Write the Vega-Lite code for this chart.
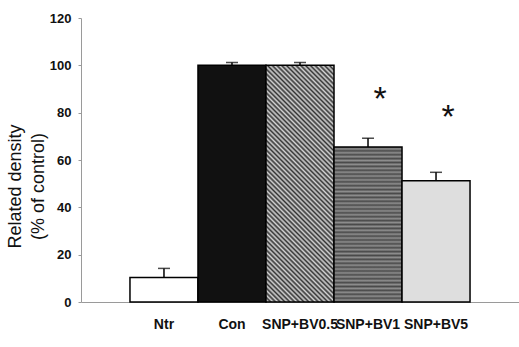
{
  "$schema": "https://vega.github.io/schema/vega-lite/v6.json",
  "width": 438,
  "height": 284,
  "autosize": {"type": "none"},
  "padding": {"left": 81, "top": 18, "right": 0, "bottom": 45},
  "background": "white",
  "config": {"view": {"stroke": null}, "font": "Liberation Sans"},
  "data": {
    "values": [
      {"group": "Ntr", "mean": 10.3, "upper": 14.2},
      {"group": "Con", "mean": 100, "upper": 101.2},
      {"group": "SNP+BV0.5", "mean": 100, "upper": 101.2},
      {"group": "SNP+BV1", "mean": 65.5, "upper": 69.2, "star": "*", "starY": 87.5},
      {"group": "SNP+BV5", "mean": 51.2, "upper": 54.8, "star": "*", "starY": 80}
    ]
  },
  "encoding": {
    "x": {
      "field": "group",
      "type": "nominal",
      "sort": null,
      "scale": {"paddingInner": 0, "paddingOuter": 0.72},
      "axis": {
        "title": null,
        "labelAngle": 0,
        "ticks": false,
        "domainColor": "#9a9a9a",
        "domainWidth": 1,
        "labelFont": "Liberation Sans",
        "labelFontWeight": "bold",
        "labelFontSize": 14,
        "labelColor": "#111",
        "labelPadding": 15
      }
    }
  },
  "layer": [
    {
      "transform": [{"filter": "datum.group === 'Ntr'"}],
      "mark": {"type": "bar", "fill": "white", "stroke": "black", "strokeWidth": 1.5},
      "encoding": {
        "y": {
          "field": "mean",
          "type": "quantitative",
          "scale": {"domain": [0, 120], "nice": false},
          "title": ["Related density", "(% of control)"],
          "axis": {
            "values": [0, 20, 40, 60, 80, 100, 120],
            "grid": false,
            "domainColor": "#9a9a9a",
            "tickColor": "#9a9a9a",
            "tickSize": 3,
            "labelFont": "Liberation Sans",
            "labelFontWeight": "bold",
            "labelFontSize": 13,
            "labelColor": "#111",
            "labelPadding": 7,
            "title": ["Related density", "(% of control)"],
            "titleFont": "Liberation Sans",
            "titleFontSize": 18,
            "titleFontWeight": "normal",
            "titleColor": "#111",
            "titleLineHeight": 23,
            "titleX": -57,
            "titleY": 168
          }
        }
      }
    },
    {
      "transform": [{"filter": "datum.group === 'Con'"}],
      "mark": {"type": "bar", "fill": "#111111", "stroke": "black", "strokeWidth": 1.5},
      "encoding": {"y": {"field": "mean", "type": "quantitative"}}
    },
    {
      "transform": [{"filter": "datum.group === 'SNP+BV0.5'"}],
      "mark": {
        "type": "bar",
        "stroke": "black",
        "strokeWidth": 1.5,
        "fill": {
          "gradient": "linear",
          "x1": 0, "y1": 1, "x2": 0.3416, "y2": -0.1891,
          "stops": [
            {"offset": 0, "color": "#333333"}, {"offset": 0.0078, "color": "#d4d4d4"},
            {"offset": 0.0156, "color": "#333333"}, {"offset": 0.0234, "color": "#d4d4d4"},
            {"offset": 0.0313, "color": "#333333"}, {"offset": 0.0391, "color": "#d4d4d4"},
            {"offset": 0.0469, "color": "#333333"}, {"offset": 0.0547, "color": "#d4d4d4"},
            {"offset": 0.0625, "color": "#333333"}, {"offset": 0.0703, "color": "#d4d4d4"},
            {"offset": 0.0781, "color": "#333333"}, {"offset": 0.0859, "color": "#d4d4d4"},
            {"offset": 0.0938, "color": "#333333"}, {"offset": 0.1016, "color": "#d4d4d4"},
            {"offset": 0.1094, "color": "#333333"}, {"offset": 0.1172, "color": "#d4d4d4"},
            {"offset": 0.125, "color": "#333333"}, {"offset": 0.1328, "color": "#d4d4d4"},
            {"offset": 0.1406, "color": "#333333"}, {"offset": 0.1484, "color": "#d4d4d4"},
            {"offset": 0.1563, "color": "#333333"}, {"offset": 0.1641, "color": "#d4d4d4"},
            {"offset": 0.1719, "color": "#333333"}, {"offset": 0.1797, "color": "#d4d4d4"},
            {"offset": 0.1875, "color": "#333333"}, {"offset": 0.1953, "color": "#d4d4d4"},
            {"offset": 0.2031, "color": "#333333"}, {"offset": 0.2109, "color": "#d4d4d4"},
            {"offset": 0.2188, "color": "#333333"}, {"offset": 0.2266, "color": "#d4d4d4"},
            {"offset": 0.2344, "color": "#333333"}, {"offset": 0.2422, "color": "#d4d4d4"},
            {"offset": 0.25, "color": "#333333"}, {"offset": 0.2578, "color": "#d4d4d4"},
            {"offset": 0.2656, "color": "#333333"}, {"offset": 0.2734, "color": "#d4d4d4"},
            {"offset": 0.2813, "color": "#333333"}, {"offset": 0.2891, "color": "#d4d4d4"},
            {"offset": 0.2969, "color": "#333333"}, {"offset": 0.3047, "color": "#d4d4d4"},
            {"offset": 0.3125, "color": "#333333"}, {"offset": 0.3203, "color": "#d4d4d4"},
            {"offset": 0.3281, "color": "#333333"}, {"offset": 0.3359, "color": "#d4d4d4"},
            {"offset": 0.3438, "color": "#333333"}, {"offset": 0.3516, "color": "#d4d4d4"},
            {"offset": 0.3594, "color": "#333333"}, {"offset": 0.3672, "color": "#d4d4d4"},
            {"offset": 0.375, "color": "#333333"}, {"offset": 0.3828, "color": "#d4d4d4"},
            {"offset": 0.3906, "color": "#333333"}, {"offset": 0.3984, "color": "#d4d4d4"},
            {"offset": 0.4063, "color": "#333333"}, {"offset": 0.4141, "color": "#d4d4d4"},
            {"offset": 0.4219, "color": "#333333"}, {"offset": 0.4297, "color": "#d4d4d4"},
            {"offset": 0.4375, "color": "#333333"}, {"offset": 0.4453, "color": "#d4d4d4"},
            {"offset": 0.4531, "color": "#333333"}, {"offset": 0.4609, "color": "#d4d4d4"},
            {"offset": 0.4688, "color": "#333333"}, {"offset": 0.4766, "color": "#d4d4d4"},
            {"offset": 0.4844, "color": "#333333"}, {"offset": 0.4922, "color": "#d4d4d4"},
            {"offset": 0.5, "color": "#333333"}, {"offset": 0.5078, "color": "#d4d4d4"},
            {"offset": 0.5156, "color": "#333333"}, {"offset": 0.5234, "color": "#d4d4d4"},
            {"offset": 0.5313, "color": "#333333"}, {"offset": 0.5391, "color": "#d4d4d4"},
            {"offset": 0.5469, "color": "#333333"}, {"offset": 0.5547, "color": "#d4d4d4"},
            {"offset": 0.5625, "color": "#333333"}, {"offset": 0.5703, "color": "#d4d4d4"},
            {"offset": 0.5781, "color": "#333333"}, {"offset": 0.5859, "color": "#d4d4d4"},
            {"offset": 0.5938, "color": "#333333"}, {"offset": 0.6016, "color": "#d4d4d4"},
            {"offset": 0.6094, "color": "#333333"}, {"offset": 0.6172, "color": "#d4d4d4"},
            {"offset": 0.625, "color": "#333333"}, {"offset": 0.6328, "color": "#d4d4d4"},
            {"offset": 0.6406, "color": "#333333"}, {"offset": 0.6484, "color": "#d4d4d4"},
            {"offset": 0.6563, "color": "#333333"}, {"offset": 0.6641, "color": "#d4d4d4"},
            {"offset": 0.6719, "color": "#333333"}, {"offset": 0.6797, "color": "#d4d4d4"},
            {"offset": 0.6875, "color": "#333333"}, {"offset": 0.6953, "color": "#d4d4d4"},
            {"offset": 0.7031, "color": "#333333"}, {"offset": 0.7109, "color": "#d4d4d4"},
            {"offset": 0.7188, "color": "#333333"}, {"offset": 0.7266, "color": "#d4d4d4"},
            {"offset": 0.7344, "color": "#333333"}, {"offset": 0.7422, "color": "#d4d4d4"},
            {"offset": 0.75, "color": "#333333"}, {"offset": 0.7578, "color": "#d4d4d4"},
            {"offset": 0.7656, "color": "#333333"}, {"offset": 0.7734, "color": "#d4d4d4"},
            {"offset": 0.7813, "color": "#333333"}, {"offset": 0.7891, "color": "#d4d4d4"},
            {"offset": 0.7969, "color": "#333333"}, {"offset": 0.8047, "color": "#d4d4d4"},
            {"offset": 0.8125, "color": "#333333"}, {"offset": 0.8203, "color": "#d4d4d4"},
            {"offset": 0.8281, "color": "#333333"}, {"offset": 0.8359, "color": "#d4d4d4"},
            {"offset": 0.8438, "color": "#333333"}, {"offset": 0.8516, "color": "#d4d4d4"},
            {"offset": 0.8594, "color": "#333333"}, {"offset": 0.8672, "color": "#d4d4d4"},
            {"offset": 0.875, "color": "#333333"}, {"offset": 0.8828, "color": "#d4d4d4"},
            {"offset": 0.8906, "color": "#333333"}, {"offset": 0.8984, "color": "#d4d4d4"},
            {"offset": 0.9063, "color": "#333333"}, {"offset": 0.9141, "color": "#d4d4d4"},
            {"offset": 0.9219, "color": "#333333"}, {"offset": 0.9297, "color": "#d4d4d4"},
            {"offset": 0.9375, "color": "#333333"}, {"offset": 0.9453, "color": "#d4d4d4"},
            {"offset": 0.9531, "color": "#333333"}, {"offset": 0.9609, "color": "#d4d4d4"},
            {"offset": 0.9688, "color": "#333333"}, {"offset": 0.9766, "color": "#d4d4d4"},
            {"offset": 0.9844, "color": "#333333"}, {"offset": 0.9922, "color": "#d4d4d4"},
            {"offset": 1, "color": "#333333"}
          ]
        }
      },
      "encoding": {"y": {"field": "mean", "type": "quantitative"}}
    },
    {
      "transform": [{"filter": "datum.group === 'SNP+BV1'"}],
      "mark": {
        "type": "bar",
        "stroke": "black",
        "strokeWidth": 1.5,
        "fill": {
          "gradient": "linear",
          "x1": 0, "y1": 0, "x2": 0, "y2": 1,
          "stops": [
            {"offset": 0, "color": "#4a4a4a"}, {"offset": 0.0125, "color": "#8e8e8e"},
            {"offset": 0.025, "color": "#4a4a4a"}, {"offset": 0.0375, "color": "#8e8e8e"},
            {"offset": 0.05, "color": "#4a4a4a"}, {"offset": 0.0625, "color": "#8e8e8e"},
            {"offset": 0.075, "color": "#4a4a4a"}, {"offset": 0.0875, "color": "#8e8e8e"},
            {"offset": 0.1, "color": "#4a4a4a"}, {"offset": 0.1125, "color": "#8e8e8e"},
            {"offset": 0.125, "color": "#4a4a4a"}, {"offset": 0.1375, "color": "#8e8e8e"},
            {"offset": 0.15, "color": "#4a4a4a"}, {"offset": 0.1625, "color": "#8e8e8e"},
            {"offset": 0.175, "color": "#4a4a4a"}, {"offset": 0.1875, "color": "#8e8e8e"},
            {"offset": 0.2, "color": "#4a4a4a"}, {"offset": 0.2125, "color": "#8e8e8e"},
            {"offset": 0.225, "color": "#4a4a4a"}, {"offset": 0.2375, "color": "#8e8e8e"},
            {"offset": 0.25, "color": "#4a4a4a"}, {"offset": 0.2625, "color": "#8e8e8e"},
            {"offset": 0.275, "color": "#4a4a4a"}, {"offset": 0.2875, "color": "#8e8e8e"},
            {"offset": 0.3, "color": "#4a4a4a"}, {"offset": 0.3125, "color": "#8e8e8e"},
            {"offset": 0.325, "color": "#4a4a4a"}, {"offset": 0.3375, "color": "#8e8e8e"},
            {"offset": 0.35, "color": "#4a4a4a"}, {"offset": 0.3625, "color": "#8e8e8e"},
            {"offset": 0.375, "color": "#4a4a4a"}, {"offset": 0.3875, "color": "#8e8e8e"},
            {"offset": 0.4, "color": "#4a4a4a"}, {"offset": 0.4125, "color": "#8e8e8e"},
            {"offset": 0.425, "color": "#4a4a4a"}, {"offset": 0.4375, "color": "#8e8e8e"},
            {"offset": 0.45, "color": "#4a4a4a"}, {"offset": 0.4625, "color": "#8e8e8e"},
            {"offset": 0.475, "color": "#4a4a4a"}, {"offset": 0.4875, "color": "#8e8e8e"},
            {"offset": 0.5, "color": "#4a4a4a"}, {"offset": 0.5125, "color": "#8e8e8e"},
            {"offset": 0.525, "color": "#4a4a4a"}, {"offset": 0.5375, "color": "#8e8e8e"},
            {"offset": 0.55, "color": "#4a4a4a"}, {"offset": 0.5625, "color": "#8e8e8e"},
            {"offset": 0.575, "color": "#4a4a4a"}, {"offset": 0.5875, "color": "#8e8e8e"},
            {"offset": 0.6, "color": "#4a4a4a"}, {"offset": 0.6125, "color": "#8e8e8e"},
            {"offset": 0.625, "color": "#4a4a4a"}, {"offset": 0.6375, "color": "#8e8e8e"},
            {"offset": 0.65, "color": "#4a4a4a"}, {"offset": 0.6625, "color": "#8e8e8e"},
            {"offset": 0.675, "color": "#4a4a4a"}, {"offset": 0.6875, "color": "#8e8e8e"},
            {"offset": 0.7, "color": "#4a4a4a"}, {"offset": 0.7125, "color": "#8e8e8e"},
            {"offset": 0.725, "color": "#4a4a4a"}, {"offset": 0.7375, "color": "#8e8e8e"},
            {"offset": 0.75, "color": "#4a4a4a"}, {"offset": 0.7625, "color": "#8e8e8e"},
            {"offset": 0.775, "color": "#4a4a4a"}, {"offset": 0.7875, "color": "#8e8e8e"},
            {"offset": 0.8, "color": "#4a4a4a"}, {"offset": 0.8125, "color": "#8e8e8e"},
            {"offset": 0.825, "color": "#4a4a4a"}, {"offset": 0.8375, "color": "#8e8e8e"},
            {"offset": 0.85, "color": "#4a4a4a"}, {"offset": 0.8625, "color": "#8e8e8e"},
            {"offset": 0.875, "color": "#4a4a4a"}, {"offset": 0.8875, "color": "#8e8e8e"},
            {"offset": 0.9, "color": "#4a4a4a"}, {"offset": 0.9125, "color": "#8e8e8e"},
            {"offset": 0.925, "color": "#4a4a4a"}, {"offset": 0.9375, "color": "#8e8e8e"},
            {"offset": 0.95, "color": "#4a4a4a"}, {"offset": 0.9625, "color": "#8e8e8e"},
            {"offset": 0.975, "color": "#4a4a4a"}, {"offset": 0.9875, "color": "#8e8e8e"},
            {"offset": 1, "color": "#4a4a4a"}
          ]
        }
      },
      "encoding": {"y": {"field": "mean", "type": "quantitative"}}
    },
    {
      "transform": [{"filter": "datum.group === 'SNP+BV5'"}],
      "mark": {"type": "bar", "fill": "#dedede", "stroke": "black", "strokeWidth": 1.5},
      "encoding": {"y": {"field": "mean", "type": "quantitative"}}
    },
    {
      "mark": {"type": "rule", "color": "black", "strokeWidth": 1.5},
      "encoding": {
        "y": {"field": "mean", "type": "quantitative"},
        "y2": {"field": "upper"}
      }
    },
    {
      "mark": {"type": "tick", "color": "black", "thickness": 1.5, "size": 12},
      "encoding": {"y": {"field": "upper", "type": "quantitative"}}
    },
    {
      "transform": [{"filter": "datum.star != null"}],
      "mark": {"type": "text", "fontSize": 34, "font": "Liberation Sans", "baseline": "middle", "dy": 5, "dx": 12, "color": "#111"},
      "encoding": {
        "y": {"field": "starY", "type": "quantitative"},
        "text": {"field": "star"}
      }
    }
  ]
}
